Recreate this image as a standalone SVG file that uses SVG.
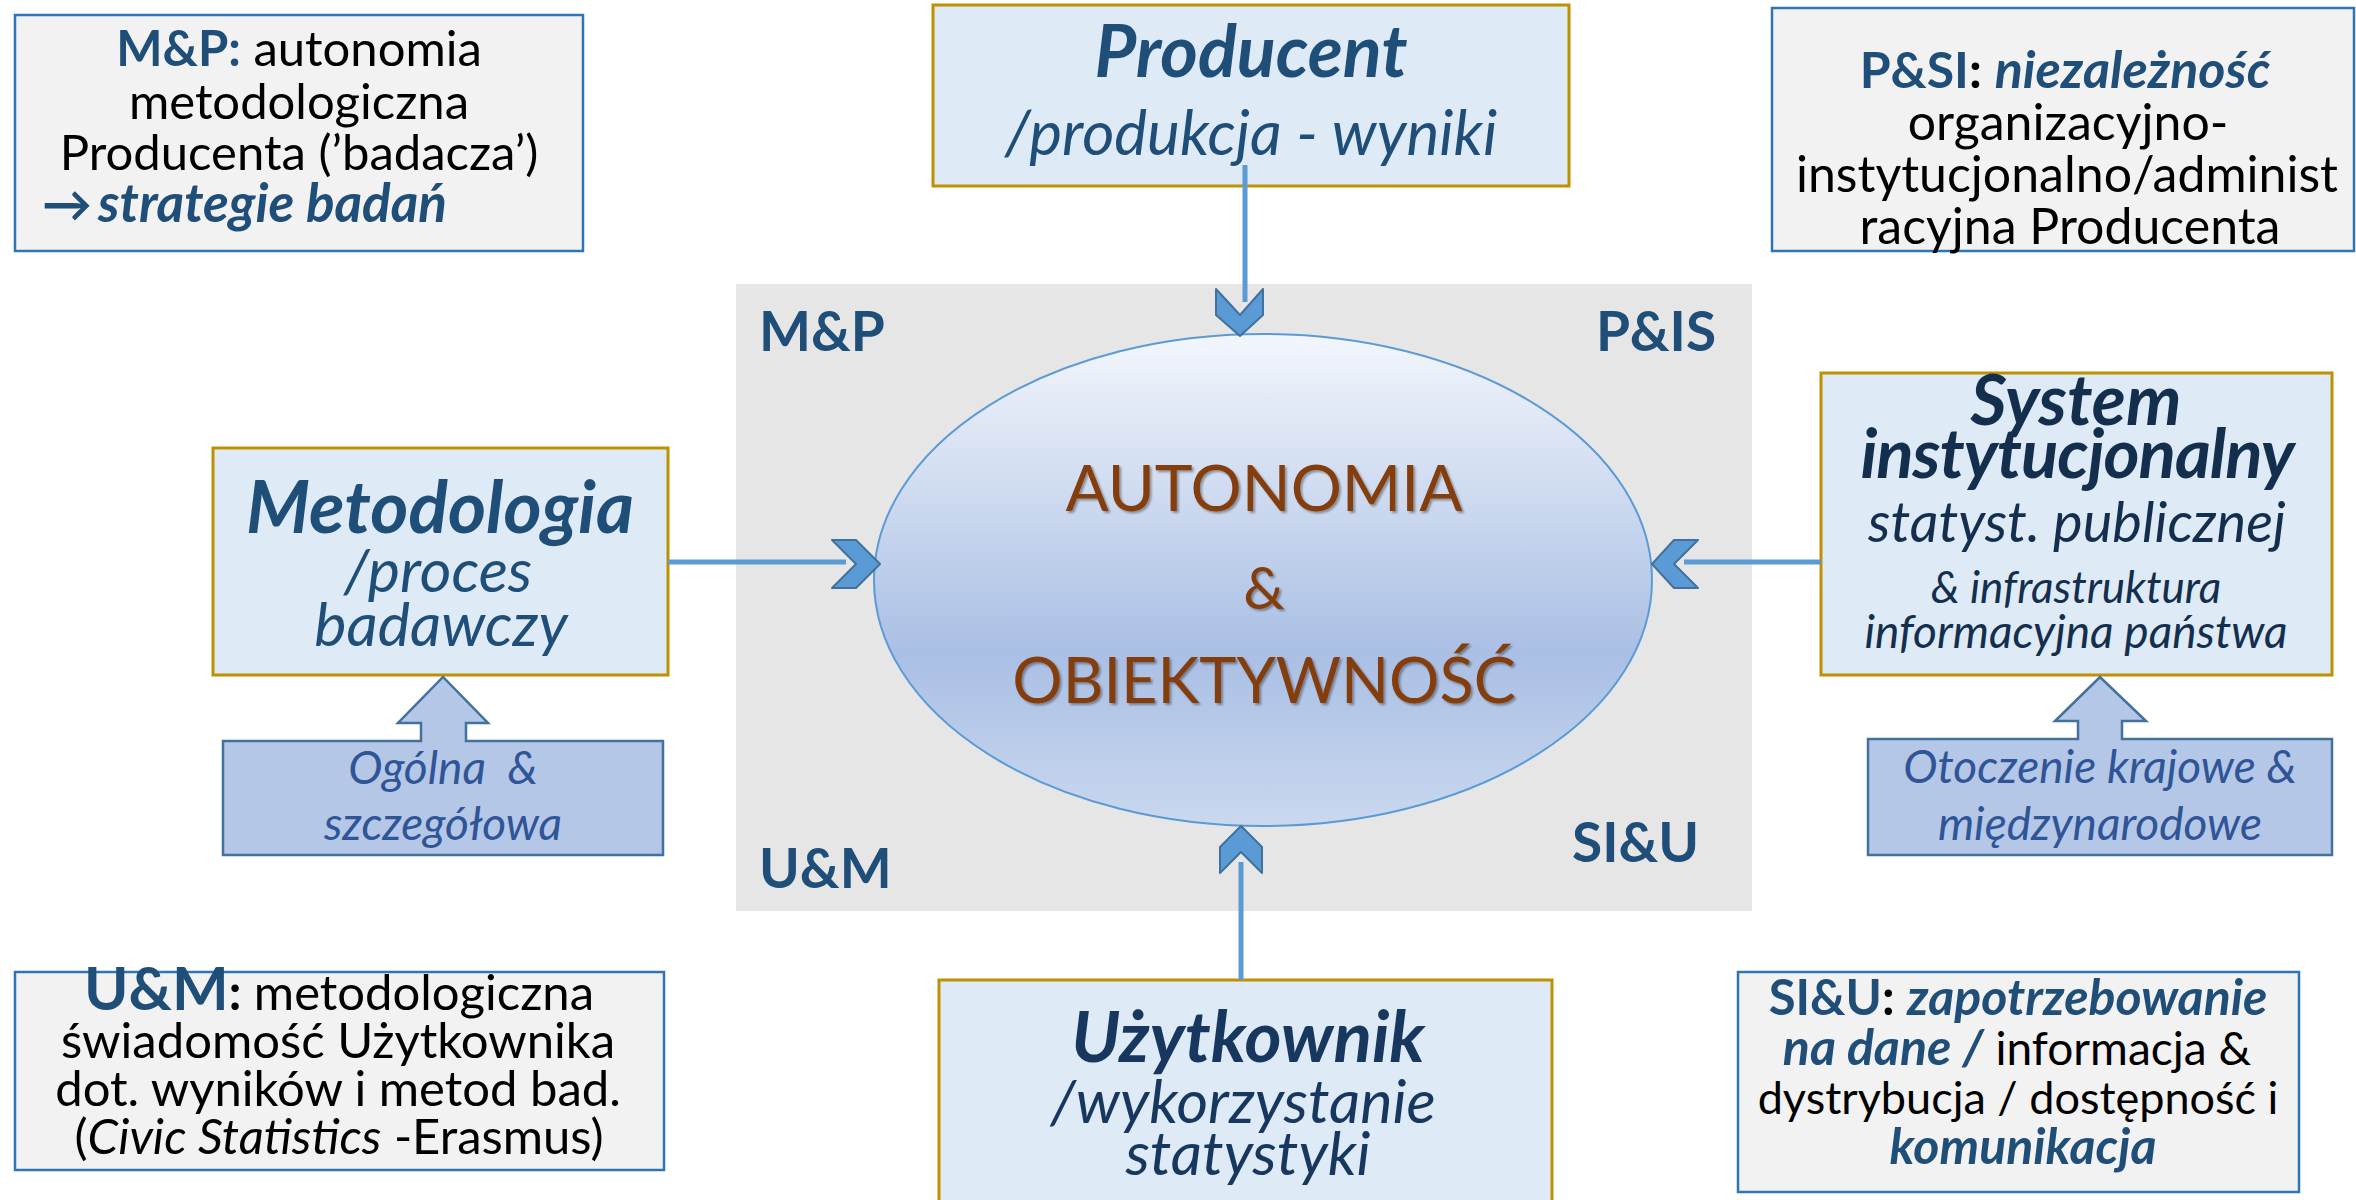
<svg xmlns="http://www.w3.org/2000/svg" width="2356" height="1200" viewBox="0 0 2356 1200">
<defs>
<linearGradient id="ell" x1="0" y1="0" x2="0" y2="1">
<stop offset="0" stop-color="#f3f6fc"/>
<stop offset="0.65" stop-color="#a9bfe4"/>
<stop offset="1" stop-color="#cad8ef"/>
</linearGradient>
<filter id="sh" x="-10%" y="-30%" width="120%" height="160%">
<feDropShadow dx="2" dy="2" stdDeviation="1.2" flood-color="#000" flood-opacity="0.35"/>
</filter>
</defs>
<style>
text{font-family:Lato,"Open Sans","DejaVu Sans",sans-serif;fill:#000;}
.node{fill:#deebf7;stroke:#bf9000;stroke-width:3;}
.info{fill:#f2f2f2;stroke:#2e75b6;stroke-width:2.5;}
.call{fill:#b4c7e7;stroke:#41719c;stroke-width:2.5;}
.line{stroke:#5b9bd5;stroke-width:5;fill:none;}
.chev{fill:#5b9bd5;stroke:#41719c;stroke-width:2;stroke-linejoin:round;}
.b{font-weight:bold;}
.i{font-style:italic;}
.blue{fill:#1f4e79;}
.navy{fill:#142f4e;}
.dnavy{fill:#17375e;}
.mid{text-anchor:middle;}
.corner{font-weight:bold;font-size:55px;fill:#1f4e79;}
.ell{fill:#843c0c;filter:url(#sh);}
.call-t{font-style:italic;fill:#2f5597;font-size:46px;text-anchor:middle;}
</style>
<rect x="0" y="0" width="2356" height="1200" fill="#ffffff"/>

<g id="center-area">
<rect x="736" y="284" width="1016" height="627" fill="#e7e6e6"/>
<text class="corner" x="759" y="351">M&amp;P</text>
<text class="corner" x="1596" y="351">P&amp;IS</text>
<text class="corner" x="759" y="888">U&amp;M</text>
<text class="corner" x="1572" y="862">SI&amp;U</text>
</g>

<g id="autonomia">
<ellipse cx="1263" cy="580" rx="389" ry="246" fill="url(#ell)" stroke="#5b9bd5" stroke-width="2"/>
<text class="ell mid" x="1264" y="511" font-size="64">AUTONOMIA</text>
<text class="ell mid" x="1264" y="609" font-size="58">&amp;</text>
<text class="ell mid" x="1264" y="703" font-size="63">OBIEKTYWNOŚĆ</text>
</g>

<g id="mp-info">
<rect class="info" x="15" y="15" width="568" height="236"/>
<text class="mid" x="299" y="66" font-size="49"><tspan class="b blue">M&amp;P:</tspan> autonomia</text>
<text class="mid" x="299" y="119" font-size="49">metodologiczna</text>
<text class="mid" x="299" y="170" font-size="49">Producenta (’badacza’)</text>
<text x="42" y="222" font-size="50" class="b blue">→</text>
<text x="98" y="222" font-size="53" class="b i blue">strategie badań</text>
</g>

<g id="psi-info">
<rect class="info" x="1772" y="8" width="582" height="243"/>
<text class="mid" x="2065" y="88" font-size="50"><tspan class="b blue">P&amp;SI</tspan><tspan class="b">:</tspan> <tspan class="b i blue" font-size="52">niezależność</tspan></text>
<text class="mid" x="2068" y="140" font-size="50">organizacyjno-</text>
<text class="mid" x="2067" y="192" font-size="50">instytucjonalno/administ</text>
<text class="mid" x="2070" y="244" font-size="50">racyjna Producenta</text>
</g>

<g id="um-info">
<rect class="info" x="15" y="972" width="649" height="198"/>
<text class="mid" x="339" y="1010" font-size="49"><tspan class="b blue" font-size="60">U&amp;M</tspan><tspan class="b">:</tspan> metodologiczna</text>
<text class="mid" x="338" y="1058" font-size="49">świadomość Użytkownika</text>
<text class="mid" x="338" y="1106" font-size="49">dot. wyników i metod bad.</text>
<text class="mid" x="339" y="1154" font-size="49">(<tspan class="i">Civic Statistics</tspan> -Erasmus)</text>
</g>

<g id="siu-info">
<rect class="info" x="1738" y="972" width="561" height="220"/>
<text class="mid" x="2018" y="1015" font-size="49"><tspan class="b blue">SI&amp;U</tspan><tspan class="b">:</tspan> <tspan class="b i blue" font-size="50">zapotrzebowanie</tspan></text>
<text class="mid" x="2017" y="1065" font-size="46"><tspan class="b i blue" font-size="50">na dane /</tspan> informacja &amp;</text>
<text class="mid" x="2018" y="1114" font-size="45">dystrybucja / dostępność i</text>
<text class="mid b i blue" x="2023" y="1164" font-size="50">komunikacja</text>
</g>

<g id="producent">
<rect class="node" x="933" y="5" width="636" height="181"/>
<text class="mid b i blue" x="1251" y="77" font-size="72">Producent</text>
<text class="mid i blue" x="1251" y="155" font-size="62">/produkcja - wyniki</text>
</g>

<g id="metodologia">
<rect class="node" x="213" y="448" width="455" height="227"/>
<text class="mid b i blue" x="440" y="533" font-size="73">Metodologia</text>
<text class="mid i blue" x="438" y="592" font-size="61">/proces</text>
<text class="mid i blue" x="441" y="646" font-size="61">badawczy</text>
</g>

<g id="system">
<rect class="node" x="1821" y="373" width="511" height="302"/>
<text class="mid b i navy" x="2076" y="425" font-size="70">System</text>
<text class="mid b i navy" x="2077" y="478" font-size="69" style="letter-spacing:-1px">instytucjonalny</text>
<text class="mid i navy" x="2077" y="542" font-size="56">statyst. publicznej</text>
<text class="mid i navy" x="2076" y="603" font-size="44">&amp; infrastruktura</text>
<text class="mid i navy" x="2076" y="648" font-size="46">informacyjna państwa</text>
</g>

<g id="uzytkownik">
<rect class="node" x="939" y="980" width="613" height="226"/>
<text class="mid b i dnavy" x="1248" y="1062" font-size="71">Użytkownik</text>
<text class="mid i dnavy" x="1243" y="1123" font-size="61">/wykorzystanie</text>
<text class="mid i dnavy" x="1248" y="1175" font-size="61">statystyki</text>
</g>

<g id="ogolna">
<path class="call" d="M223,741 H421 V723 H398 L443,677 L488,723 H466 V741 H663 V855 H223 Z"/>
<text class="call-t" x="443" y="784" xml:space="preserve">Ogólna  &amp;</text>
<text class="call-t" x="443" y="840">szczegółowa</text>
</g>

<g id="otoczenie">
<path class="call" d="M1868,739 H2078 V721 H2055 L2100,677 L2146,721 H2122 V739 H2332 V855 H1868 Z"/>
<text class="call-t" x="2100" y="783">Otoczenie krajowe &amp;</text>
<text class="call-t" x="2100" y="840">międzynarodowe</text>
</g>

<g id="connectors">
<line class="line" x1="1245" y1="165" x2="1245" y2="302"/>
<polygon class="chev" points="1216,289 1240,315 1263,289 1263,315 1240,336 1216,315"/>
<line class="line" x1="668" y1="562" x2="846" y2="562"/>
<polygon class="chev" points="832,540 856,540 880,564 856,588 832,588 856,564"/>
<line class="line" x1="1821" y1="562" x2="1684" y2="562"/>
<polygon class="chev" points="1698,540 1674,540 1652,564 1674,588 1698,588 1674,564"/>
<line class="line" x1="1241" y1="980" x2="1241" y2="862"/>
<polygon class="chev" points="1241,826 1262,847 1262,873 1241,852 1220,873 1220,847"/>
</g>
</svg>
